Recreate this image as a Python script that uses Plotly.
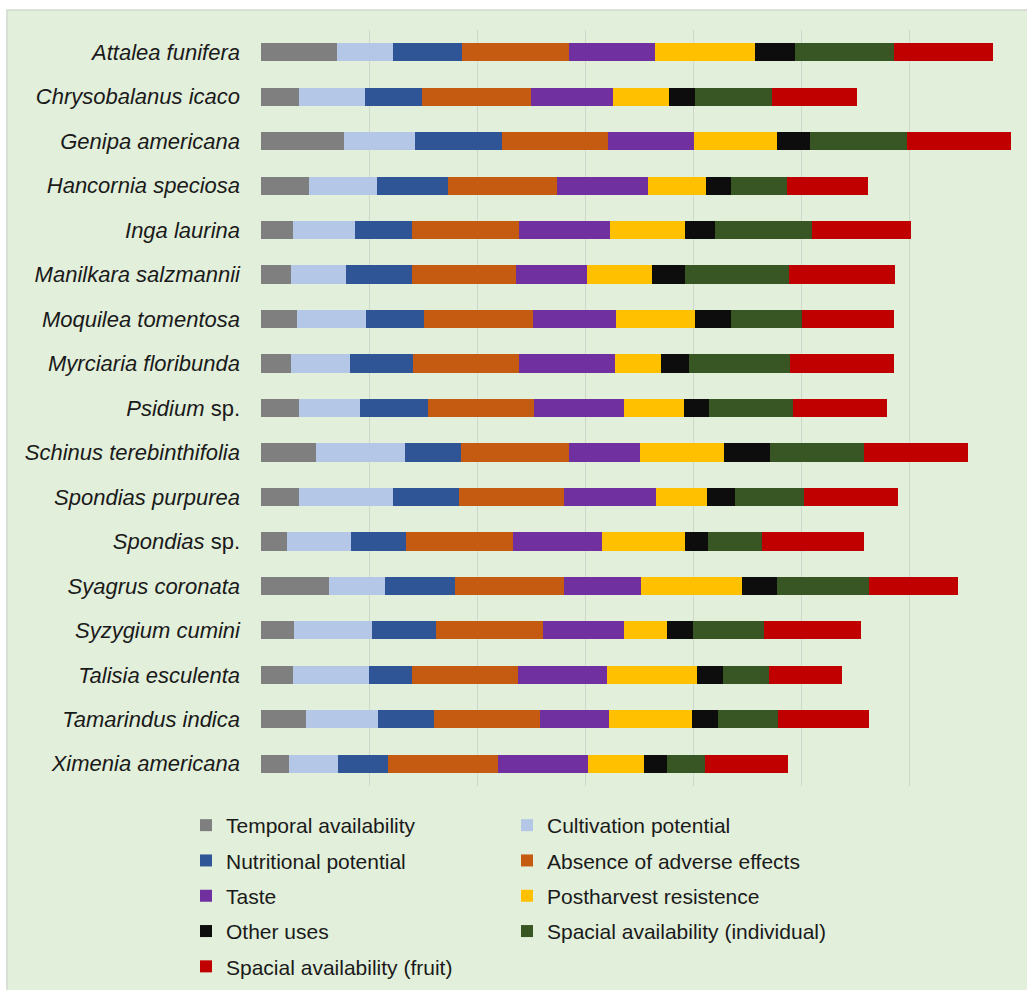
import plotly.graph_objects as go

# Species, listed top to bottom
species = [
    "Attalea funifera", "Chrysobalanus icaco", "Genipa americana",
    "Hancornia speciosa", "Inga laurina", "Manilkara salzmannii",
    "Moquilea tomentosa", "Myrciaria floribunda", "Psidium sp.",
    "Schinus terebinthifolia", "Spondias purpurea", "Spondias sp.",
    "Syagrus coronata", "Syzygium cumini", "Talisia esculenta",
    "Tamarindus indica", "Ximenia americana",
]

# Italic genus/epithet, "sp." kept upright
species_labels = [
    "<i>Attalea funifera</i>", "<i>Chrysobalanus icaco</i>", "<i>Genipa americana</i>",
    "<i>Hancornia speciosa</i>", "<i>Inga laurina</i>", "<i>Manilkara salzmannii</i>",
    "<i>Moquilea tomentosa</i>", "<i>Myrciaria floribunda</i>", "<i>Psidium</i> sp.",
    "<i>Schinus terebinthifolia</i>", "<i>Spondias purpurea</i>", "<i>Spondias</i> sp.",
    "<i>Syagrus coronata</i>", "<i>Syzygium cumini</i>", "<i>Talisia esculenta</i>",
    "<i>Tamarindus indica</i>", "<i>Ximenia americana</i>",
]

# Criterion scores per species (same order as species)
temporal_availability = [0.70, 0.35, 0.77, 0.44, 0.30, 0.28, 0.33, 0.28, 0.35, 0.51, 0.35, 0.24, 0.63, 0.31, 0.30, 0.42, 0.26]
cultivation_potential = [0.52, 0.61, 0.66, 0.63, 0.57, 0.51, 0.64, 0.54, 0.57, 0.82, 0.87, 0.59, 0.52, 0.72, 0.70, 0.66, 0.45]
nutritional_potential = [0.64, 0.53, 0.80, 0.66, 0.53, 0.61, 0.54, 0.59, 0.63, 0.52, 0.61, 0.51, 0.65, 0.59, 0.40, 0.52, 0.47]
absence_adverse_effects = [0.99, 1.01, 0.98, 1.01, 0.99, 0.96, 1.01, 0.98, 0.98, 1.00, 0.98, 0.99, 1.01, 0.99, 0.98, 0.98, 1.01]
taste = [0.80, 0.76, 0.80, 0.84, 0.84, 0.66, 0.77, 0.89, 0.83, 0.66, 0.85, 0.83, 0.71, 0.75, 0.82, 0.64, 0.84]
postharvest_resistence = [0.92, 0.52, 0.77, 0.54, 0.70, 0.60, 0.73, 0.42, 0.56, 0.78, 0.47, 0.77, 0.93, 0.40, 0.84, 0.77, 0.52]
other_uses = [0.37, 0.24, 0.30, 0.23, 0.27, 0.31, 0.33, 0.26, 0.23, 0.42, 0.26, 0.21, 0.33, 0.24, 0.24, 0.24, 0.21]
spacial_individual = [0.92, 0.71, 0.90, 0.52, 0.90, 0.96, 0.66, 0.94, 0.78, 0.87, 0.64, 0.50, 0.85, 0.66, 0.42, 0.56, 0.35]
spacial_fruit = [0.92, 0.79, 0.96, 0.75, 0.92, 0.98, 0.85, 0.96, 0.87, 0.97, 0.87, 0.94, 0.82, 0.90, 0.68, 0.84, 0.77]

series = [
    ("Temporal availability", temporal_availability, "#7F7F7F", "legend"),
    ("Cultivation potential", cultivation_potential, "#B4C7E7", "legend2"),
    ("Nutritional potential", nutritional_potential, "#2F5597", "legend"),
    ("Absence of adverse effects", absence_adverse_effects, "#C55A11", "legend2"),
    ("Taste", taste, "#7030A0", "legend"),
    ("Postharvest resistence", postharvest_resistence, "#FFC000", "legend2"),
    ("Other uses", other_uses, "#0D0D0D", "legend"),
    ("Spacial availability (individual)", spacial_individual, "#375623", "legend2"),
    ("Spacial availability (fruit)", spacial_fruit, "#C00000", "legend"),
]

FONT = "Liberation Sans, Arial, sans-serif"
TEXT = "#1A1A1A"

fig = go.Figure()
for i, (name, values, color, leg) in enumerate(series):
    fig.add_trace(go.Bar(
        y=species_labels, x=values, name=name, orientation="h",
        marker=dict(color=color, line=dict(width=0)),
        legend=leg, legendgroup=f"g{i}",
    ))

# Plot area in pixels
W, H = 1027, 990
L, R, T, B = 261, 1017, 30, 786
pw, ph = R - L, B - T

def px_x(p):
    return (p - L) / pw

def px_y(p):
    return (B - p) / ph

legend_style = dict(
    orientation="v", xanchor="left", yanchor="top",
    bgcolor="rgba(0,0,0,0)", font=dict(family=FONT, size=21, color=TEXT),
    tracegroupgap=5, traceorder="grouped", itemwidth=30,
)

fig.update_layout(
    width=W, height=H,
    margin=dict(l=L, r=W - R, t=T, b=H - B, pad=0, autoexpand=False),
    barmode="stack", bargap=0.59,
    paper_bgcolor="white",
    plot_bgcolor="rgba(0,0,0,0)",
    font=dict(family=FONT, size=22, color=TEXT),
    xaxis=dict(
        range=[0, 7], dtick=1, showticklabels=False, ticks="",
        showgrid=True, gridcolor="#CFD6CC", gridwidth=1,
        zeroline=False, showline=False, fixedrange=True,
    ),
    yaxis=dict(
        categoryorder="array", categoryarray=species_labels,
        autorange="reversed", showgrid=False, zeroline=False,
        ticks="", ticklabelstandoff=20,
        tickfont=dict(family=FONT, size=22, color=TEXT),
    ),
    legend=dict(x=px_x(186), y=px_y(805), **legend_style),
    legend2=dict(x=px_x(507), y=px_y(805), **legend_style),
    shapes=[dict(
        type="rect", xref="paper", yref="paper", layer="below",
        x0=px_x(7), x1=px_x(W + 5), y0=px_y(H + 5), y1=px_y(10),
        fillcolor="#E2EFDA", line=dict(color="#D2D8CF", width=1.5),
    )],
    showlegend=True,
)

fig.write_html("out.html")
